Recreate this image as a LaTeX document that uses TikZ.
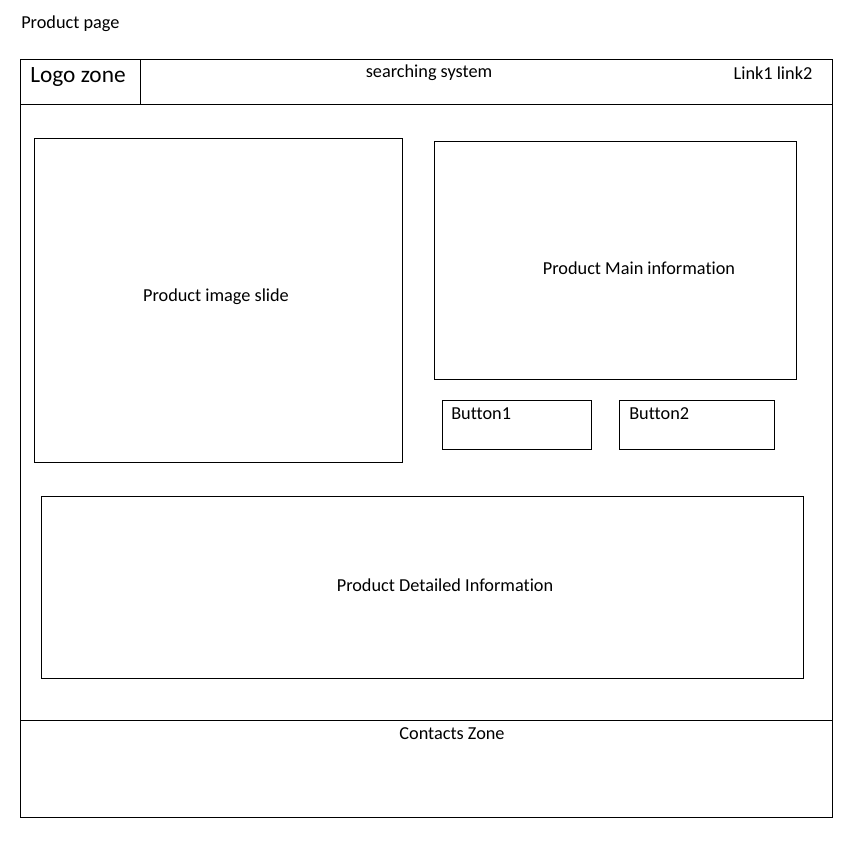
\documentclass[tikz,border=0pt]{standalone}
\usepackage{fontspec}
\setmainfont[Ligatures=NoCommon]{Carlito}
\usetikzlibrary{positioning}
\tikzset{
    zone/.style={draw=black, line width=0.75pt}, % frame lines of the page
    label/.style={font=\fontsize{13.7}{16}\selectfont, inner sep=0pt}, % ordinary texts
    biglabel/.style={font=\fontsize{17.5}{20}\selectfont, inner sep=0pt},
}

\begin{document}
\begin{tikzpicture}[x=0.75pt, y=-0.75pt]
        \useasboundingbox (0,0) rectangle (855,844);
        % Page frame
        \draw[zone] (20,59) rectangle (832,817);
        \draw[zone] (20,104) -- (832,104);
        \draw[zone] (140,59) -- (140,104);
        \draw[zone] (20,720) -- (832,720);
        % Boxes
        \draw[zone] (34,138) rectangle (402,462);
        \draw[zone] (434,141) rectangle (796,379);
        \draw[zone] (442,400) rectangle (591,449);
        \draw[zone] (619,400) rectangle (774,449);
        \draw[zone] (41,496) rectangle (803,678);
        % Texts
        \node[label, anchor=west] (title) at (21,24) {Product page};
        \node[biglabel, anchor=west] (logo) at (30,77) {Logo zone};
        \node[label] (search) at (429,73) {searching system};
        \node[label] (links) at (773,73) {Link1 link2};
        \node[label] (slide) at (216,297) {Product image slide};
        \node[label] (main) at (639,268) {Product Main information};
        \node[label, anchor=west] (btn1) at (451,414) {Button1};
        \node[label, anchor=west] (btn2) at (629,414) {Button2};
        \node[label] (detail) at (445,585) {Product Detailed Information};
        \node[label] (contacts) at (452,734) {Contacts Zone};
    \end{tikzpicture}
\end{document}
